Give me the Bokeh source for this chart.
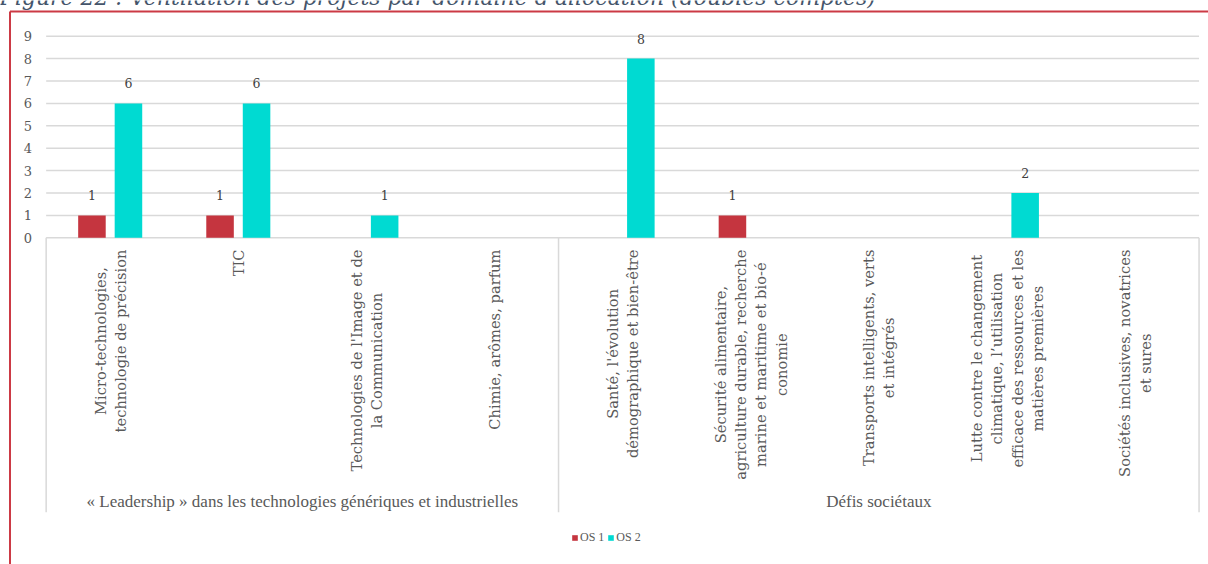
import math
from bokeh.plotting import figure
from bokeh.models import Range1d, Legend, LegendItem, ColumnDataSource
from bokeh.core.properties import value
from bokeh.embed import file_html
from bokeh.resources import INLINE

# ---------------- data ----------------
title_text = "Figure 22 : Ventilation des projets par domaine d'allocation (doubles comptes)"
categories = [
    "Micro-technologies,\ntechnologie de précision",
    "TIC",
    "Technologies de l'Image et de\nla Communication",
    "Chimie, arômes, parfum",
    "Santé, l'évolution\ndémographique et bien-être",
    "Sécurité alimentaire,\nagriculture durable, recherche\nmarine et maritime et bio-é\nconomie",
    "Transports intelligents, verts\net intégrés",
    "Lutte contre le changement\nclimatique, l’utilisation\nefficace des ressources et les\nmatières premières",
    "Sociétés inclusives, novatrices\net sures",
]
groups = ["« Leadership » dans les technologies génériques et industrielles", "Défis sociétaux"]
group_sizes = [4, 5]
series_names = ["OS 1", "OS 2"]
os1 = [1, 1, 0, 0, 0, 1, 0, 0, 0]
os2 = [6, 6, 1, 0, 8, 0, 0, 2, 0]
y_ticks = [0, 1, 2, 3, 4, 5, 6, 7, 8, 9]

# ---------------- layout ----------------
W, H = 1208, 564
X0_PX = 109.7     # pixel centre of first category
CAT_PX = 128.1    # pixel width of a category
Y0_PX = 237.3     # pixel row of value 0
UNIT_PX = 22.4    # pixels per unit
BAR_OFF = 0.1425
BAR_W = 0.215
LABEL_GAP_PX = 20

RED = "#C5353F"
CYAN = "#00DAD2"
GRID = "#D9D9D9"
TXT = "#595959"
SERIF = "DejaVu Serif"
NARROW = "Liberation Serif"


def px_x(px):
    return (px - X0_PX) / CAT_PX


def px_y(py):
    return (Y0_PX - py) / UNIT_PX


n = len(categories)
idx = list(range(n))

p = figure(width=W, height=H,
           x_range=Range1d(px_x(0), px_x(W)),
           y_range=Range1d(px_y(H), px_y(0)),
           output_backend="svg", toolbar_location=None,
           x_axis_location=None, y_axis_location=None,
           min_border=0, outline_line_color=None)
p.grid.visible = False
p.background_fill_color = "white"
p.border_fill_color = "white"

# gridlines (value axis)
p.segment(x0=-0.5, x1=n - 0.5, y0=y_ticks, y1=y_ticks, line_color=GRID, line_width=1.5)

# category box separators
bounds = [-0.5]
for g in group_sizes:
    bounds.append(bounds[-1] + g)
p.segment(x0=bounds, x1=bounds, y0=0, y1=px_y(511.7), line_color=GRID, line_width=1.5)

# bars
src1 = ColumnDataSource(dict(x=[i - BAR_OFF for i in idx], top=os1))
src2 = ColumnDataSource(dict(x=[i + BAR_OFF for i in idx], top=os2))
r1 = p.vbar(x="x", top="top", width=BAR_W, bottom=0, source=src1, fill_color=RED, line_color=None)
r2 = p.vbar(x="x", top="top", width=BAR_W, bottom=0, source=src2, fill_color=CYAN, line_color=None)

# data labels (non-zero values only)
gap = LABEL_GAP_PX / UNIT_PX
for vals, off in ((os1, -BAR_OFF), (os2, BAR_OFF)):
    xs = [i + off for i, v in zip(idx, vals) if v]
    ys = [v + gap for v in vals if v]
    ts = [str(v) for v in vals if v]
    p.text(x=xs, y=ys, text=ts, text_align="center", text_baseline="middle",
           text_font=value(SERIF), text_font_size="12.5px", text_color="#404040")

# y tick labels
p.text(x=px_x(31.5), y=y_ticks, text=[str(t) for t in y_ticks], text_align="right",
       text_baseline="middle", text_font=value(SERIF), text_font_size="13px", text_color=TXT)

# category labels (rotated, multi-line, centred lines)
p.text(x=idx, y=px_y(249), text=categories, angle=math.pi / 2,
       anchor="center_right", text_align="center", text_baseline="middle",
       text_line_height=1.2, text_font=value(SERIF), text_font_size="14.7px", text_color=TXT)

# group labels
gx = []
for b0, g in zip(bounds[:-1], group_sizes):
    gx.append(b0 + g / 2)
p.text(x=gx, y=px_y(501), text=groups, text_align="center", text_baseline="middle",
       text_font=value(NARROW), text_font_size="17px", text_color=TXT)

# document caption (cut off at the top, as in the source page)
p.text(x=px_x(-1), y=px_y(-3), text=[title_text], text_align="left", text_baseline="alphabetic",
       text_font=value(SERIF), text_font_style="italic", text_font_size="22px", text_color="#44546A")

# red frame of the figure box
p.segment(x0=px_x(9.5), x1=px_x(W + 5), y0=px_y(11), y1=px_y(11), line_color="#CC3A45", line_width=2)
p.segment(x0=px_x(9.5), x1=px_x(9.5), y0=px_y(11), y1=px_y(H + 5), line_color="#CC3A45", line_width=2)

# legend
legend = Legend(items=[LegendItem(label=series_names[0], renderers=[r1]),
                       LegendItem(label=series_names[1], renderers=[r2])],
                location=(571, 19), orientation="horizontal",
                padding=0, margin=0, spacing=3, glyph_width=7, glyph_height=7,
                label_standoff=2, label_height=14,
                label_text_font=NARROW, label_text_font_size="12px", label_text_color=TXT,
                border_line_color=None, background_fill_alpha=0)
p.add_layout(legend)

open("out.html", "w").write(file_html(p, INLINE))
